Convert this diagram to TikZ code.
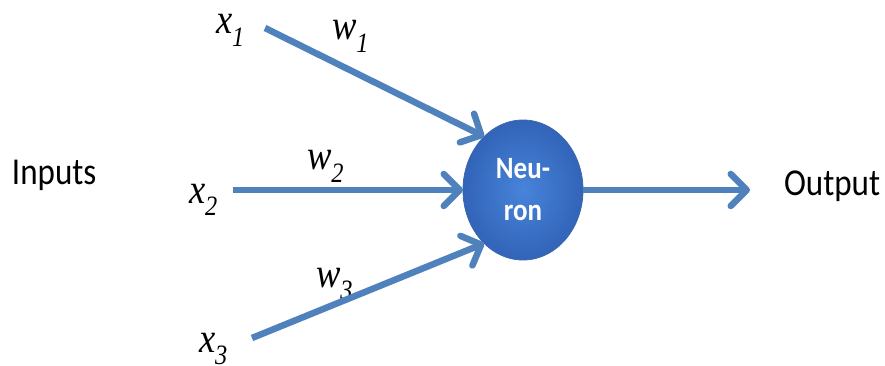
\documentclass[tikz,border=0pt]{standalone}
\usepackage{fontspec}
\usepackage{xcolor}
\usepackage{tikz}
\usetikzlibrary{arrows.meta,shapes.geometric}
\newfontfamily\labfont{Liberation Serif}[FakeStretch=0.87]
\newfontfamily\calfont{Carlito}[FakeStretch=0.87]
\definecolor{arrowblue}{HTML}{4F81BD}
\definecolor{ballin}{HTML}{4784DA}
\definecolor{ballout}{HTML}{3264B8}
\definecolor{balledge}{HTML}{3A68B0}
\newcommand\sublab[2]{#1\raisebox{-0.3em}{\fontsize{28}{28}\selectfont #2}}

\begin{document}
\begin{tikzpicture}[
  x=1pt, y=-1pt,
  every node/.style={inner sep=0pt, outer sep=0pt},
  link/.style={-{Straight Barb[length=16pt, width=32pt, round]}, line width=6.5pt, arrowblue},
  neuronball/.style={ellipse, minimum width=120pt, minimum height=140pt, shading=radial,
    inner color=ballin, outer color=ballout, draw=balledge, line width=0.8pt,
    text=white, align=center, font=\calfont\bfseries\fontsize{31}{42}\selectfont},
  varlab/.style={anchor=base west, font=\labfont\itshape\fontsize{42}{42}\selectfont},
  textlab/.style={anchor=base west, font=\calfont\fontsize{38}{38}\selectfont}
]
\useasboundingbox (0,0) rectangle (885,366);

\node[neuronball] (neuron) at (523,190) {Neu-\\ron};

% inputs
\coordinate (s1) at (265,28);
\coordinate (s2) at (233,190);
\coordinate (s3) at (252,338);
\node[varlab] (x1) at (216,34) {\sublab{x}{1}};
\node[varlab] (x2) at (189,203) {\sublab{x}{2}};
\node[varlab] (x3) at (199,352) {\sublab{x}{3}};
\node[varlab] (w1) at (332,40) {\sublab{w}{1}};
\node[varlab] (w2) at (307,170) {\sublab{w}{2}};
\node[varlab] (w3) at (316,287) {\sublab{w}{3}};
\node[textlab] (inputs) at (12,184) {Inputs};

% output
\coordinate (o) at (750,190);
\node[textlab] (output) at (784,195) {Output};

\draw[link] (s1) -- (neuron.126);
\draw[link] (s2) -- (neuron.west);
\draw[link] (s3) -- (neuron.234);
\draw[link] (neuron.east) -- (o);
\end{tikzpicture}
\end{document}
